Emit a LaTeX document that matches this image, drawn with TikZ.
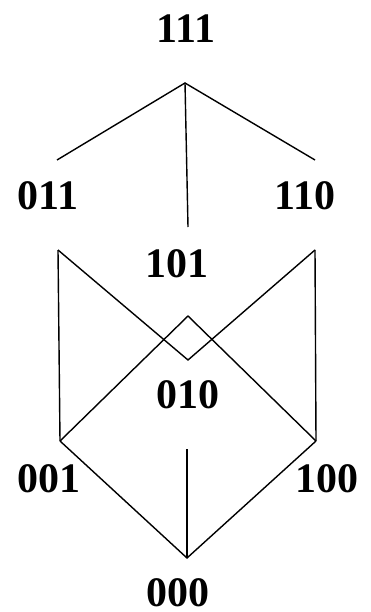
\documentclass[tikz,border=0pt]{standalone}
\usepackage{fontspec}
\setmainfont{Liberation Serif}
\begin{document}
\begin{tikzpicture}[x=1pt,y=-1pt,
  lbl/.style={anchor=base,inner sep=0pt,font=\fontsize{42}{48}\selectfont\bfseries},
  edge/.style={line width=1.4pt,line join=miter}]
\useasboundingbox (0,0) rectangle (370,612);
% labels
\node[lbl] (n111) at (186,43) {111};
\node[lbl] (n011) at (48,210) {011};
\node[lbl] (n110) at (305,210) {110};
\node[lbl] (n101) at (177,277) {101};
\node[lbl] (n010) at (188,408) {010};
\node[lbl] (n001) at (49,492) {001};
\node[lbl] (n100) at (327,492) {100};
\node[lbl] (n000) at (178,606) {000};
% connector end points
\coordinate (p111) at (185,83);
\coordinate (p011t) at (57,160);
\coordinate (p011b) at (58,250);
\coordinate (p110t) at (315,160);
\coordinate (p110b) at (315,250);
\coordinate (p101t) at (188,227);
\coordinate (p101b) at (188,316);
\coordinate (p010t) at (188,360);
\coordinate (p010b) at (187,449);
\coordinate (p001) at (60,441);
\coordinate (p100) at (316,441);
\coordinate (p000) at (187,558);
% edges
\draw[edge] (p011t) -- (p111) -- (p110t);
\draw[edge] (p111) -- (p101t);
\draw[edge] (p011b) -- (p010t) -- (p110b);
\draw[edge] (p001) -- (p101b) -- (p100);
\draw[edge] (p011b) -- (p001);
\draw[edge] (p110b) -- (p100);
\draw[edge] (p001) -- (p000) -- (p100);
\draw[edge] (p010b) -- (p000);
\end{tikzpicture}
\end{document}
